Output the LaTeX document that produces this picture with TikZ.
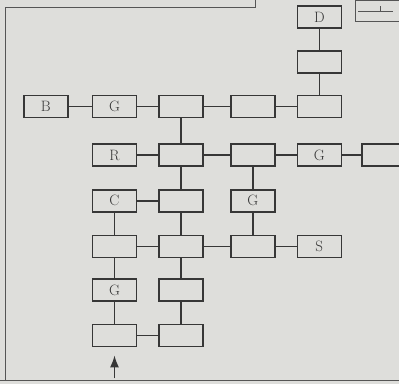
\documentclass[tikz,border=0pt]{standalone}
\usepackage{xcolor}
\usepackage{tikz}
\usetikzlibrary{arrows.meta,positioning}
\definecolor{papercolor}{RGB}{222,222,219}
\definecolor{inkcolor}{RGB}{55,55,55}

\begin{document}
\begin{tikzpicture}[
    x=1pt, y=1pt,
    every node/.style={font=\fontsize{15}{15}\selectfont},
    room/.style={rectangle, draw=inkcolor, line width=1.6pt, text=inkcolor, minimum width=44pt, minimum height=22pt, inner sep=0pt},
    link/.style={draw=inkcolor, line width=1.6pt},
    entry/.style={-{Latex[length=12pt,width=9pt]}, line width=1.8pt, draw=inkcolor, shorten >=8pt},
    frame/.style={draw=inkcolor!85, line width=1pt}
]
    % Page
    \fill[papercolor] (0,0) rectangle (399,384);
    \useasboundingbox (0,0) rectangle (399,384);
    \draw[frame] (0,4) -- (399,4);
    \draw[frame] (5,4) -- (5,376) -- (255,376) -- (255,384);
    \draw[frame] (401,383) -- (355,383) -- (355,362) -- (401,362);
    \draw[frame] (358,372) -- (393,372);
    \draw[frame] (380,372) -- (380,378);

    % Rooms
    \node[room] (g1) at (114.5,277.5) {G};
    \node[room, left=23pt of g1] (b1) {B};
    \node[room, right=21pt of g1] (n13) {};
    \node[room, right=26pt of n13] (n14) {};
    \node[room, right=21pt of n14] (n15) {};
    \node[room, above=21pt of n15] (n05) {};
    \node[room, above=21pt of n05] (d0) {D};

    \node[room, below=25pt of n13] (n23) {};
    \node[room, left=21pt of n23] (r2) {R};
    \node[room, right=26pt of n23] (n24) {};
    \node[room, right=21pt of n24] (g25) {G};
    \node[room, right=19pt of g25] (n26) {};

    \node[room, below=22pt of n23] (n33) {};
    \node[room, left=21pt of n33] (c3) {C};
    \node[room, below=22pt of n24] (g34) {G};

    \node[room, below=22pt of n33] (n43) {};
    \node[room, left=21pt of n43] (n41) {};
    \node[room, right=26pt of n43] (n44) {};
    \node[room, right=21pt of n44] (s4) {S};

    \node[room, below=20pt of n43] (n53) {};
    \node[room, left=21pt of n53] (g5) {G};

    \node[room, below=22pt of n53] (n63) {};
    \node[room, left=21pt of n63] (n61) {};

    \coordinate[below=31pt of n61] (start);

    % Links
    \draw[link] (b1) -- (g1);
    \draw[link] (g1) -- (n13);
    \draw[link] (n13) -- (n14);
    \draw[link] (n14) -- (n15);
    \draw[link] (d0) -- (n05);
    \draw[link] (n05) -- (n15);
    \draw[link] (n13) -- (n23);
    \draw[link] (r2) -- (n23);
    \draw[link] (n23) -- (n24);
    \draw[link] (n24) -- (g25);
    \draw[link] (g25) -- (n26);
    \draw[link] (n24) -- (g34);
    \draw[link] (n23) -- (n33);
    \draw[link] (c3) -- (n33);
    \draw[link] (c3) -- (n41);
    \draw[link] (n33) -- (n43);
    \draw[link] (n41) -- (n43);
    \draw[link] (n43) -- (n44);
    \draw[link] (g34) -- (n44);
    \draw[link] (n44) -- (s4);
    \draw[link] (n41) -- (g5);
    \draw[link] (n43) -- (n53);
    \draw[link] (g5) -- (n61);
    \draw[link] (n53) -- (n63);
    \draw[link] (n61) -- (n63);
    \draw[entry] (start) -- (n61);
\end{tikzpicture}
\end{document}
